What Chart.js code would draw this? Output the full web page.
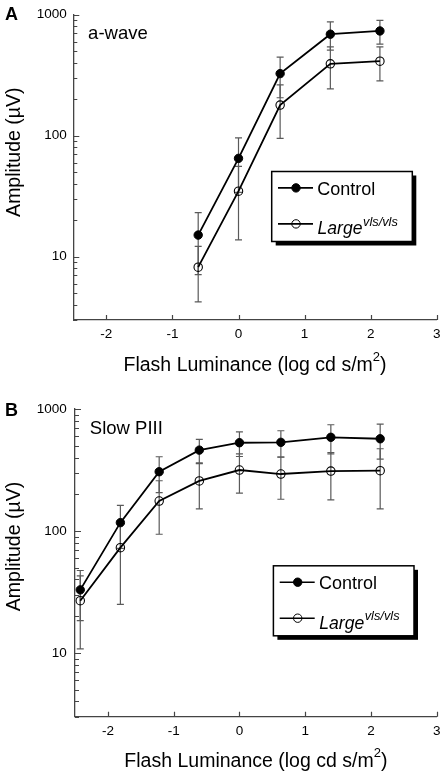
<!DOCTYPE html>
<html>
<head>
<meta charset="utf-8">
<script src="https://cdn.jsdelivr.net/npm/chart.js@4"></script>
<style>
body { margin: 0; background: #fff; width: 447px; height: 775px; overflow: hidden; position: relative; }
canvas { position: absolute; left: 0; }
#chartA { top: 0; }
#chartB { top: 388px; }
</style>
</head>
<body>
<canvas id="chartA" width="447" height="388"></canvas>
<canvas id="chartB" width="447" height="387"></canvas>
<script>
// panel A: a-wave
var lumA = [-0.61, 0, 0.63, 1.39, 2.14];
var ctrlA = [15.1, 65, 326, 690, 734];
var ctrlSemA = [8, 31, 120, 181, 163];
var largeA = [8.2, 34.8, 179, 393, 413];
var largeSemA = [3.96, 21, 84, 149, 129];

// panel B: slow PIII
var lumB = [-2.42, -1.81, -1.22, -0.61, 0, 0.63, 1.39, 2.14];
var ctrlB = [32.9, 117, 306, 460, 529, 533, 586, 570];
var ctrlSemB = [14.5, 45, 100, 103, 121, 130, 157, 182];
var largeB = [26.8, 73, 176, 257, 316, 293, 310, 312];
var largeSemB = [16, 48, 82, 105, 112, 111, 130, 160];

var xTicks = [-2, -1, 0, 1, 2, 3];
var yTicks = [10, 100, 1000];

var FONT = '"Liberation Sans", Arial, sans-serif';

function drawMarker(ctx, x, y, filled) {
    ctx.beginPath();
    ctx.arc(x, y, 4.2, 0, Math.PI * 2);
    if (filled) { ctx.fillStyle = '#000'; ctx.fill(); }
    ctx.lineWidth = 1;
    ctx.strokeStyle = '#000';
    ctx.stroke();
}

var decor = {
    id: 'decor',
    beforeDatasetsDraw(chart) {
        // error bars (mean +/- sem)
        var ctx = chart.ctx, xs = chart.scales.x, ys = chart.scales.y;
        ctx.save();
        ctx.strokeStyle = '#5a5a5a';
        ctx.lineWidth = 1.2;
        chart.data.datasets.forEach(function(ds) {
            ds.data.forEach(function(p, j) {
                var s = ds.sem[j];
                var px = xs.getPixelForValue(p.x);
                var top = ys.getPixelForValue(p.y + s);
                var bot = ys.getPixelForValue(Math.max(p.y - s, ys.min));
                ctx.beginPath();
                ctx.moveTo(px, top); ctx.lineTo(px, bot);
                ctx.moveTo(px - 3.5, top); ctx.lineTo(px + 3.5, top);
                ctx.moveTo(px - 3.5, bot); ctx.lineTo(px + 3.5, bot);
                ctx.stroke();
            });
        });
        ctx.restore();
    },
    afterDraw(chart, args, opts) {
        var ctx = chart.ctx, a = chart.chartArea, xs = chart.scales.x, ys = chart.scales.y;
        ctx.save();

        // inward ticks
        ctx.strokeStyle = '#444';
        ctx.lineWidth = 1.2;
        ctx.beginPath();
        xTicks.forEach(function(v) {
            var px = Math.round(xs.getPixelForValue(v)) + 0.5;
            ctx.moveTo(px, a.bottom); ctx.lineTo(px, a.bottom - 5);
        });
        yTicks.forEach(function(v) {
            var py = Math.round(ys.getPixelForValue(v)) + 0.5;
            ctx.moveTo(a.left, py); ctx.lineTo(a.left + 6, py);
        });
        [1, 10, 100].forEach(function(d) {
            for (var k = 2; k <= 9; k++) {
                var v = k * d;
                if (v < ys.min || v > ys.max) continue;
                var py = Math.round(ys.getPixelForValue(v)) + 0.5;
                ctx.moveTo(a.left, py); ctx.lineTo(a.left + 4, py);
            }
        });
        ctx.stroke();

        ctx.fillStyle = '#000';
        ctx.textBaseline = 'alphabetic';

        // axis titles
        ctx.font = '19.5px ' + FONT;
        var main = 'Flash Luminance (log cd s/m', end = ')';
        var w1 = ctx.measureText(main).width, w3 = ctx.measureText(end).width;
        ctx.font = '13px ' + FONT;
        var w2 = ctx.measureText('2').width;
        var x0 = (a.left + a.right) / 2 - (w1 + w2 + w3) / 2;
        var by = a.bottom + 50.7;
        ctx.font = '19.5px ' + FONT;
        ctx.textAlign = 'left';
        ctx.fillText(main, x0, by);
        ctx.fillText(end, x0 + w1 + w2, by);
        ctx.font = '13px ' + FONT;
        ctx.fillText('2', x0 + w1, by - 10);

        ctx.save();
        ctx.translate(20, a.top + 137.5);
        ctx.rotate(-Math.PI / 2);
        ctx.textAlign = 'center';
        ctx.font = '19.5px ' + FONT;
        ctx.fillText('Amplitude (\u00b5V)', 0, 0);
        ctx.restore();

        // panel letter and inset label
        ctx.textAlign = 'left';
        ctx.font = 'bold 18px ' + FONT;
        ctx.fillText(opts.letter, 5, opts.letterY);
        ctx.font = '18.5px ' + FONT;
        ctx.fillText(opts.label, a.left + 14.8, a.top + 24.5);

        // legend box with drop shadow
        var lx = a.left + 198.4, ly = a.top + 156.8, lw = 140.6, lh = 70;
        ctx.fillStyle = '#000';
        ctx.fillRect(lx + 4, ly + 4, lw, lh);
        ctx.fillStyle = '#fff';
        ctx.fillRect(lx, ly, lw, lh);
        ctx.strokeStyle = '#000';
        ctx.lineWidth = 1.5;
        ctx.strokeRect(lx, ly, lw, lh);

        var rows = [a.top + 173.2, a.top + 209.2];
        rows.forEach(function(ry, i) {
            ctx.beginPath();
            ctx.lineWidth = 1.6;
            ctx.moveTo(lx + 6.3, ry); ctx.lineTo(lx + 41.3, ry);
            ctx.stroke();
            drawMarker(ctx, lx + 24.3, ry, i === 0);
        });
        ctx.fillStyle = '#000';
        ctx.font = '18px ' + FONT;
        ctx.fillText('Control', lx + 45.5, rows[0] + 6.6);
        ctx.font = 'italic 17.6px ' + FONT;
        ctx.fillText('Large', lx + 45.8, rows[1] + 10.5);
        var wl = ctx.measureText('Large').width;
        ctx.font = 'italic 12.8px ' + FONT;
        ctx.fillText('vls/vls', lx + 46.3 + wl, rows[1] + 2);

        ctx.restore();
    }
};

function makeChart(id, lum, ctrl, ctrlSem, large, largeSem, panel, lay) {
    var canvasElement = document.getElementById(id);
    var configure = {
        type: 'line',
        data: {
            datasets: [{
                label: 'Control',
                data: lum.map(function(x, i) { return { x: x, y: ctrl[i] }; }),
                sem: ctrlSem,
                borderColor: '#000',
                borderWidth: 1.8,
                pointRadius: 4.2,
                pointBorderWidth: 1,
                pointBackgroundColor: '#000',
                pointBorderColor: '#000',
                tension: 0
            }, {
                label: 'Large vls/vls',
                data: lum.map(function(x, i) { return { x: x, y: large[i] }; }),
                sem: largeSem,
                borderColor: '#000',
                borderWidth: 1.8,
                pointRadius: 4.2,
                pointBorderWidth: 1.1,
                pointBackgroundColor: 'rgba(0,0,0,0)',
                pointBorderColor: '#000',
                tension: 0
            }]
        },
        options: {
            responsive: false,
            animation: false,
            devicePixelRatio: 1,
            layout: { padding: { top: lay.top, right: 9.3, left: 0, bottom: 0 } },
            plugins: {
                legend: { display: false },
                tooltip: { enabled: false },
                decor: panel
            },
            scales: {
                x: {
                    type: 'linear',
                    min: -2.5,
                    max: 3,
                    grid: { display: false, drawTicks: false },
                    border: { display: true, color: '#444', width: 1.3 },
                    ticks: { color: '#000', font: { family: FONT, size: 13.5 }, padding: 6.5, maxRotation: 0 },
                    afterBuildTicks: function(scale) {
                        scale.ticks = xTicks.map(function(v) { return { value: v }; });
                    },
                    afterFit: function(scale) { scale.height = lay.xh; }
                },
                y: {
                    type: 'logarithmic',
                    min: 3,
                    max: 1000,
                    grid: { display: false, drawTicks: false },
                    border: { display: true, color: '#444', width: 1.3 },
                    ticks: {
                        color: '#000',
                        font: { family: FONT, size: 13.5 },
                        padding: lay.ypad,
                        callback: function(v) { return String(v); }
                    },
                    afterBuildTicks: function(scale) {
                        scale.ticks = yTicks.map(function(v) { return { value: v }; });
                    },
                    afterFit: function(scale) { scale.width = lay.yw; }
                }
            }
        },
        plugins: [decor]
    };
    return new Chart(canvasElement, configure);
}

makeChart('chartA', lumA, ctrlA, ctrlSemA, largeA, largeSemA,
    { letter: 'A', letterY: 20, label: 'a-wave' },
    { top: 10.7, xh: 68, yw: 73.3, ypad: 6.6 });
makeChart('chartB', lumB, ctrlB, ctrlSemB, largeB, largeSemB,
    { letter: 'B', letterY: 27.7, label: 'Slow PIII' },
    { top: 21, xh: 58.3, yw: 75, ypad: 8.3 });
</script>
</body>
</html>
